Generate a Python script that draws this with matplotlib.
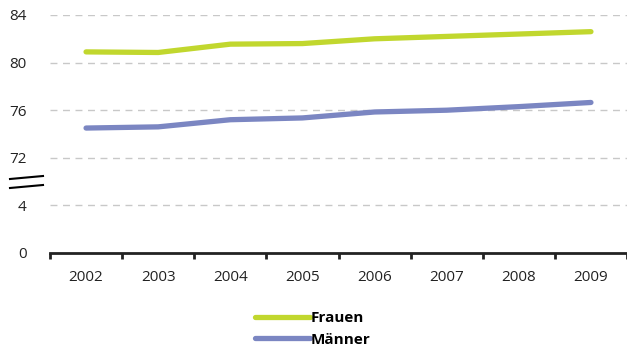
import numpy as np
import matplotlib
matplotlib.use("Agg")
import matplotlib.pyplot as plt
from matplotlib.lines import Line2D

plt.rcParams['font.family'] = ['Open Sans', 'DejaVu Sans']

# Lebenserwartung bei Geburt
years = ['2002', '2003', '2004', '2005', '2006', '2007', '2008', '2009']
frauen = [80.9, 80.85, 81.55, 81.6, 82.0, 82.2, 82.4, 82.6]
maenner = [74.5, 74.6, 75.2, 75.35, 75.85, 76.0, 76.3, 76.65]
yticks = [0, 4, 72, 76, 80, 84]

green = '#c1d72e'
blue = '#7b86c2'

W, H = 627, 347
fig = plt.figure(figsize=(W / 100, H / 100), dpi=100)
ax = fig.add_axes([50 / W, 1 - 253 / H, 1 - 50 / W, (253 - 15) / H])


# broken axis: 4..72 collapsed into one tick step
def fwd(v):
    v = np.asarray(v, dtype=float)
    return np.where(v > 38, v - 64, v)


def inv(p):
    p = np.asarray(p, dtype=float)
    return np.where(p > 6, p + 64, p)


ax.set_yscale('function', functions=(fwd, inv))

x = np.arange(len(years))
ax.plot(x, frauen, color=green, lw=3.8, solid_capstyle='round', label='Frauen')
ax.plot(x, maenner, color=blue, lw=3.8, solid_capstyle='round', label='Männer')

ax.set_xlim(-0.5, len(years) - 0.5)
ax.set_ylim(0, 84)
ax.set_yticks(yticks)
ax.set_yticklabels([str(t) for t in yticks])
ax.set_xticks(x)
ax.set_xticklabels(years)
ax.set_xticks(np.arange(-0.5, len(years)), minor=True)

for t in yticks[1:]:
    ax.axhline(t, color='#c8c8c8', lw=1.0, ls=(0, (5, 4)), zorder=0)

for s in ['top', 'right', 'left']:
    ax.spines[s].set_visible(False)
ax.spines['bottom'].set_linewidth(2.0)
ax.spines['bottom'].set_color('#222222')

ax.tick_params(axis='y', length=0, pad=17, labelsize=11, colors='#222222')
ax.tick_params(axis='x', which='major', length=0, pad=12, labelsize=11, colors='#222222')
ax.tick_params(axis='x', which='minor', length=4, width=2, color='#222222')

# break marks on the left
for y0, y1 in [(179, 176), (188, 185)]:
    fig.add_artist(Line2D([10 / W, 43 / W], [1 - y0 / H, 1 - y1 / H],
                          color='black', lw=1.5))

leg = fig.legend(loc='center left', bbox_to_anchor=(255 / W, 1 - 329 / H),
                 frameon=False, handlelength=3.6, handletextpad=0.05,
                 labelspacing=0.5, borderpad=0, borderaxespad=0,
                 prop={'weight': 'bold', 'size': 11})
for line in leg.get_lines():
    line.set_linewidth(3.8)
    line.set_solid_capstyle('round')

fig.savefig('out.png', dpi=100)
